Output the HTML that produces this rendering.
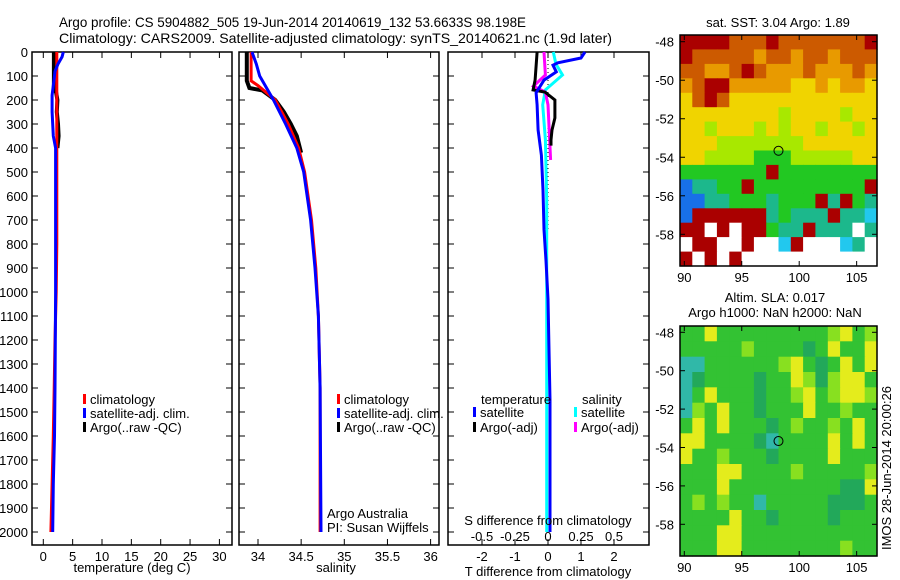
<!DOCTYPE html>
<html><head><meta charset="utf-8">
<style>
html,body{margin:0;padding:0;background:#fff;}
svg{display:block;font-family:"Liberation Sans",sans-serif;}
text{font-size:13px;fill:#000;}
</style></head>
<body>
<svg id="fig" width="900" height="580" viewBox="0 0 900 580" xmlns="http://www.w3.org/2000/svg">
<text x="59" y="27" textLength="467" lengthAdjust="spacingAndGlyphs" style="font-size:14px">Argo profile: CS 5904882_505 19-Jun-2014 20140619_132 53.6633S 98.198E</text>
<text x="59" y="43" textLength="553" lengthAdjust="spacingAndGlyphs" style="font-size:14px">Climatology: CARS2009. Satellite-adjusted climatology: synTS_20140621.nc (1.9d later)</text>
<g id="g"></g>
</svg>
<script>
// ---- data ----
const depthTicks=[0,100,200,300,400,500,600,700,800,900,1000,1100,1200,1300,1400,1500,1600,1700,1800,1900,2000];
const tempTicks=[0,5,10,15,20,25,30];
const salTicks=[34,34.5,35,35.5,36];
const tdTicks=[-2,-1,0,1,2];
const sdTicks=[-0.5,-0.25,0,0.25,0.5];
const sdTickLabels=["-0.5","-0.25","0","0.25","0.5"];
const lonTicks=[90,95,100,105];
const latTicks=[-48,-50,-52,-54,-56,-58];

const tClimD=[0,800,1000,1200,1400,1600,1800,2000];
const tClimV=[2.3,2.3,2.2,2.0,1.85,1.7,1.5,1.3];
const tSatD=[0,20,50,80,120,180,250,350,400,1000,1400,1600,1800,2000];
const tSatV=[3.4,3.2,2.5,2.0,1.8,1.5,1.5,1.7,2.1,2.1,2.0,1.9,1.7,1.6];
const tArgoD=[0,150,170,200,250,300,350,400];
const tArgoV=[1.8,1.8,2.2,2.4,2.3,2.5,2.6,2.4];

const sClimD=[0,120,140,200,300,400,500,700,900,1100,1400,2000];
const sClimV=[33.92,33.92,34.0,34.2,34.35,34.47,34.54,34.62,34.67,34.7,34.72,34.72];
const sSatD=[0,50,100,150,200,300,400,500,700,900,1100,1400,2000];
const sSatV=[33.93,33.98,34.02,34.1,34.18,34.32,34.45,34.53,34.61,34.66,34.7,34.72,34.73];
const sArgoD=[0,120,150,160,200,250,300,350,420];
const sArgoV=[33.87,33.87,33.9,34.05,34.2,34.3,34.38,34.45,34.5];

const tdSatD=[0,25,45,55,83,117,170,220,325,430,575,740,870,1030,1450,2000];
const tdSatV=[1.12,1.0,0.3,0.15,0.25,-0.12,-0.36,-0.33,-0.3,-0.2,-0.15,-0.12,-0.06,0,0.06,0.06];
const tdArgoD=[0,117,158,167,200,275,325,366,390];
const tdArgoV=[-0.33,-0.39,-0.45,-0.09,0.21,0.21,0.12,0.09,0.09];
const sdSatD=[0,50,96,158,220,366,617,1000,2000];
const sdSatV=[0.04,0.06,0.11,-0.02,-0.04,-0.02,-0.01,-0.01,-0.01];
const sdArgoD=[0,96,142,167,220,450];
const sdArgoV=[-0.03,-0.02,-0.11,-0.02,0.0,0.02];

const sstRows=[
"rrrrOOOrOOOOOOOr",
"rOOOOOoOOoOOoOOO",
"OOooOrOoooOoooOo",
"oOrroooooyyoyooy",
"yOrOyyyyyyyyyyyy",
"yyyyyyyylyyyylyy",
"yylyyylylyylyyly",
"yyylllllllyyyyyy",
"yyllllggglllllyy",
"gggggggrgggggggg",
"bttggrgggggggggr",
"bbttgggtgggrtrgt",
"brrrrrrtgtttrttc",
"rr.r.rrgttrttt.t",
".rr..r..cr...ct.",
"r.r.r..........."];
const slaRows=[
"ggyggggggggglygl",
"ggggglggggdgyggy",
"ttgggggglygdgygy",
"tdggggdggyldlyyg",
"tgygggdgglyglyyl",
"tlgyggdgggygglgg",
"gygygggdglgglgyg",
"yyggggdtggggygyg",
"ygglgggdggggyggg",
"gggyygggglgggggl",
"gggygggggggggddy",
"glglggtgggggdddg",
"ggggyggdggggdggg",
"gggyyggggggggggg",
"gggyygggggggglgg"];
const sstCol={r:"#aa0000",O:"#cc5a00",o:"#e89a00",y:"#f0d400",l:"#a8e800",g:"#22c822",t:"#1cb88c",c:"#22c8ee",b:"#1870e8",".":"#ffffff"};
const slaCol={g:"#33c233",d:"#22a85a",t:"#30b8a8",l:"#88e020",y:"#e4ec1c"};

// ---- drawing ----
const NS="http://www.w3.org/2000/svg";
const G=document.getElementById('g');
function el(t,a,p){const e=document.createElementNS(NS,t);for(const k in a)e.setAttribute(k,a[k]);(p||G).appendChild(e);return e;}
const yTop=52,yPer=0.24,pBot=545;
const yD=d=>yTop+d*yPer;
function panel(name,x0,x1,xs,ticks,labels,showY){
  const f=el('rect',{x:x0,y:yTop,width:x1-x0,height:pBot-yTop,fill:'none',stroke:'#000','stroke-width':1.5});
  
  ticks.forEach((v,i)=>{const x=xs(v);
    el('line',{x1:x,x2:x,y1:pBot,y2:pBot-6,stroke:'#000'});el('line',{x1:x,x2:x,y1:yTop,y2:yTop+6,stroke:'#000'});
    if(labels){const t=el('text',{x:x,y:pBot+16,'text-anchor':'middle'});t.textContent=labels[i];
      }
  });
  depthTicks.forEach(d=>{const y=yD(d);
    el('line',{x1:x0,x2:x0+6,y1:y,y2:y,stroke:'#000'});el('line',{x1:x1,x2:x1-6,y1:y,y2:y,stroke:'#000'});
    if(showY){const t=el('text',{x:x0-4,y:y+5,'text-anchor':'end'});t.textContent=d;
      }
  });
}
function line(name,D,V,xs,color,w,dash){
  const pts=D.map((d,i)=>xs(V[i]).toFixed(1)+','+yD(d).toFixed(1)).join(' ');
  const p=el('polyline',{points:pts,fill:'none',stroke:color,'stroke-width':w||3});
  if(dash)p.setAttribute('stroke-dasharray',dash);
  
}
function txt(name,x,y,s,anchor){const t=el('text',{x:x,y:y,'text-anchor':anchor||'start'});t.textContent=s;
  return t;}
function legend(name,x,y,color,s){const r=el('rect',{x:x,y:y-10,width:3,height:10,fill:color});
  txt(name,x+7,y,s);}

// panel 1 temperature
const xT=v=>43.3+v*5.87;
panel('temperature-panel',32,232,xT,tempTicks,tempTicks,true);
line('temp-argo',tArgoD,tArgoV,xT,'#000',4);
line('temp-climatology',tClimD,tClimV,xT,'#ff0000',3);
line('temp-satellite',tSatD,tSatV,xT,'#0000ff',3);
txt('temperature-axis-title',132,572,'temperature (deg C)','middle');
legend('legend-climatology',83,404,'#ff0000','climatology');
legend('legend-satellite',83,418,'#0000ff','satellite-adj. clim.');
legend('legend-argo',83,432,'#000','Argo(..raw -QC)');

// panel 2 salinity
const xS=v=>258+(v-34)*86.3;
panel('salinity-panel',239,439,xS,salTicks,salTicks,false);
line('sal-argo',sArgoD,sArgoV,xS,'#000',4);
line('sal-climatology',sClimD,sClimV,xS,'#ff0000',3);
line('sal-satellite',sSatD,sSatV,xS,'#0000ff',3);
txt('salinity-axis-title',336,572,'salinity','middle');
legend('legend-sal-climatology',337,404,'#ff0000','climatology');
legend('legend-sal-satellite',337,418,'#0000ff','satellite-adj. clim.');
legend('legend-sal-argo',337,432,'#000','Argo(..raw -QC)');
txt('institution',327,518,'Argo Australia');
txt('pi-name',327,532,'PI: Susan Wijffels');

// panel 3 differences
const xTD=v=>548+v*33, xSD=v=>548+v*132;
panel('difference-panel',448,649,xTD,tdTicks,tdTicks,false);
el('line',{x1:548,x2:548,y1:52,y2:232,stroke:'#000','stroke-dasharray':'1,3'});
line('sdiff-satellite',sdSatD,sdSatV,xSD,'#00ffff',3);
line('sdiff-argo',sdArgoD,sdArgoV,xSD,'#ff00ff',3);
line('tdiff-argo',tdArgoD,tdArgoV,xTD,'#000',3);
line('tdiff-satellite',tdSatD,tdSatV,xTD,'#0000ff',3);
sdTicks.forEach((v,i)=>txt('sdiff-tick-label',xSD(v),541,sdTickLabels[i],'middle'));
txt('sdiff-axis-title',548,525,'S difference from climatology','middle');
txt('tdiff-axis-title',548,576,'T difference from climatology','middle');
txt('legend-temperature-heading',481,404,'temperature');
legend('legend-tdiff-satellite',473,417,'#0000ff','satellite');
legend('legend-tdiff-argo',473,432,'#000','Argo(-adj)');
txt('legend-salinity-heading',582,404,'salinity');
legend('legend-sdiff-satellite',574,417,'#00ffff','satellite');
legend('legend-sdiff-argo',574,432,'#ff00ff','Argo(-adj)');

// maps
function map(name,rows,cols,x0,x1,y0,y1,lat48,lat58){
  const nR=rows.length;
  rows.forEach((r,ri)=>{const nC=r.length;for(let ci=0;ci<nC;ci++){
    const c=cols[r[ci]]||'#ffffff';
    const cell=el('rect',{x:(x0+ci*(x1-x0)/nC).toFixed(1),y:(y0+ri*(y1-y0)/nR).toFixed(1),width:((x1-x0)/nC+0.6).toFixed(1),height:((y1-y0)/nR+0.6).toFixed(1),fill:c});
    
  }});
  const f=el('rect',{x:x0,y:y0,width:x1-x0,height:y1-y0,fill:'none',stroke:'#000','stroke-width':1.5});
  
  const xl=v=>684.3+(v-90)*11.49;
  const yl=v=>lat48+(v+48)/(-10)*(lat58-lat48);
  lonTicks.forEach(v=>{const x=xl(v);el('line',{x1:x,x2:x,y1:y1,y2:y1-5,stroke:'#000'});el('line',{x1:x,x2:x,y1:y0,y2:y0+5,stroke:'#000'});
    txt(name+'-lon-label',x,y1+16,String(v),'middle');});
  latTicks.forEach(v=>{const y=yl(v);el('line',{x1:x0,x2:x0+5,y1:y,y2:y,stroke:'#000'});el('line',{x1:x1,x2:x1-5,y1:y,y2:y,stroke:'#000'});
    txt(name+'-lat-label',x0-6,y+5,String(v),'end');});
  const m=el('circle',{cx:xl(98.198),cy:yl(-53.6633),r:4.5,fill:'none',stroke:'#000'});
  
}
map('sst-map',sstRows,sstCol,680,877,35,266,41.7,234.3);
txt('sst-map-title',778,27,'sat. SST: 3.04  Argo: 1.89','middle');
map('sla-map',slaRows,slaCol,680,877,326,556,332.3,524.3);
txt('sla-map-title',775,302,'Altim. SLA: 0.017','middle');
txt('sla-map-subtitle',775,317,'Argo h1000: NaN h2000: NaN','middle');
const st=txt('timestamp',0,0,'IMOS 28-Jun-2014 20:00:26','middle');
st.setAttribute('transform','translate(891,468) rotate(-90)');
</script>
</body></html>
